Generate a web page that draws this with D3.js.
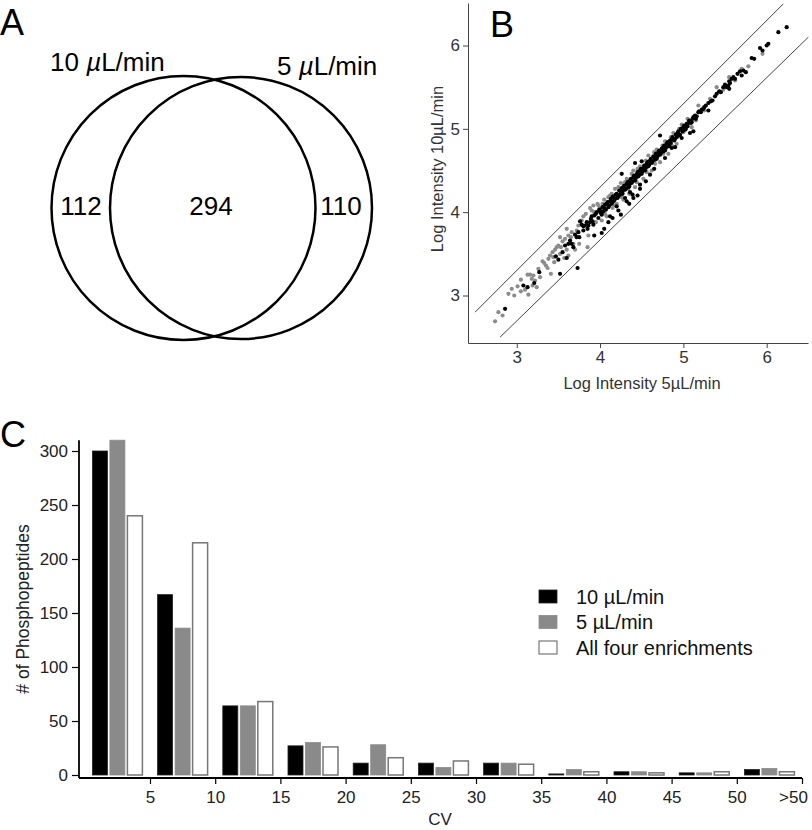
<!DOCTYPE html>
<html>
<head>
<meta charset="utf-8">
<script src="https://cdn.jsdelivr.net/npm/d3@7/dist/d3.min.js"></script>
<style>
  html, body { margin: 0; padding: 0; background: #fff; }
  svg { display: block; font-family: "Liberation Sans", Arial, Helvetica, sans-serif; }
</style>
</head>
<body>
<svg id="chart" width="812" height="830"></svg>
<script>
// ---------------- DATA ----------------
// Panel A: Venn diagram
const vennSetLabels = ["10", "5"];          // flow rates (µL/min)
const vennCounts = [112, 294, 110];         // only-10, shared, only-5

// Panel B: scatter (log intensity 5 µL/min vs 10 µL/min)
const scatterBlack = [
  [2.86,2.84],[3.08,3.12],[3.13,3.10],[3.21,3.15],[3.27,3.28],[3.52,3.26],[3.73,3.33],
  [3.47,3.47],[3.50,3.43],[3.55,3.52],[3.62,3.62],[3.68,3.58],[3.70,3.73],[3.75,3.70],
  [3.76,3.89],[3.80,3.83],[3.80,3.78],[3.78,3.85],[3.85,3.80],[3.88,3.88],[3.90,3.95],
  [3.92,3.85],[3.93,3.72],[3.95,3.98],[3.98,3.93],[4.00,4.02],[4.02,3.97],[4.02,3.75],
  [4.05,4.05],[4.08,4.10],[4.10,4.06],[4.10,3.88],[4.12,4.13],[4.12,3.95],[4.15,4.12],
  [4.15,4.18],[4.18,4.16],[4.20,4.22],[4.20,4.07],[4.22,4.19],[4.25,4.25],[4.25,3.97],
  [4.26,4.46],[4.27,4.22],[4.28,4.30],[4.30,4.27],[4.30,4.17],[4.32,4.33],[4.35,4.31],
  [4.35,4.10],[4.36,4.38],[4.36,4.24],[4.38,4.35],[4.39,4.21],[4.40,4.42],[4.40,4.17],
  [4.42,4.38],[4.42,4.59],[4.44,4.45],[4.45,4.20],[4.46,4.43],[4.48,4.50],[4.48,4.33],
  [4.50,4.46],[4.50,4.61],[4.52,4.53],[4.54,4.50],[4.55,4.37],[4.56,4.58],[4.58,4.55],
  [4.60,4.62],[4.62,4.59],[4.65,4.66],[4.68,4.64],[4.70,4.72],[4.72,4.92],[4.72,4.69],
  [4.75,4.77],[4.78,4.74],[4.80,4.82],[4.83,4.80],[4.86,4.87],[4.86,4.77],[4.90,4.88],
  [4.93,4.95],[4.96,4.93],[4.98,4.89],[5.00,5.02],[5.03,5.00],[5.06,5.07],[5.08,4.95],
  [5.10,5.08],[5.12,4.97],[5.12,5.14],[5.15,5.12],[5.18,5.20],[5.22,5.23],[5.25,5.26],
  [5.30,5.31],[5.35,5.34],[5.40,5.42],[5.45,5.44],[5.48,5.50],[5.52,5.50],[5.54,5.52],
  [5.55,5.57],[5.58,5.60],[5.65,5.66],[5.68,5.69],[5.70,5.64],[5.72,5.70],[5.82,5.85],
  [5.85,5.84],[5.92,5.97],[5.95,5.94],[6.00,6.00],[6.02,6.02],[6.14,6.16],[6.24,6.22],
  [3.96,4.00],[3.99,4.03],[4.01,3.99],[4.03,4.06],[4.04,4.01],[4.06,4.09],[4.07,4.03],
  [4.09,4.12],[4.11,4.08],[4.13,4.16],[4.14,4.10],[4.16,4.19],[4.17,4.14],[4.19,4.21],
  [4.21,4.17],[4.23,4.26],[4.24,4.21],[4.26,4.29],[4.27,4.25],[4.29,4.32],[4.31,4.28],
  [4.33,4.36],[4.34,4.30],[4.36,4.34],[4.37,4.40],[4.39,4.37],[4.41,4.44],[4.43,4.41],
  [4.45,4.48],[4.47,4.45],[4.49,4.52],[4.51,4.49],[4.53,4.56],[4.55,4.53],[4.57,4.60],
  [4.59,4.57],[4.61,4.64],[4.63,4.61],[4.64,4.67],[4.66,4.63],[4.67,4.70],[4.69,4.67],
  [4.71,4.74],[4.73,4.71],[4.74,4.76],[4.76,4.73],[4.77,4.80],[4.79,4.77],[4.81,4.84],
  [4.82,4.79],[4.84,4.86],[4.85,4.83],[4.87,4.90],[4.89,4.86],[4.91,4.93],[4.92,4.90],
  [4.94,4.97],[4.95,4.92],[4.97,5.00],[4.99,4.97],[5.01,5.04],[5.02,4.99],[5.04,5.06],
  [5.05,5.03],[5.07,5.10],[5.09,5.07],[5.11,5.12],[5.14,5.16],[5.16,5.15],[5.19,5.21],
  [5.21,5.20],[5.24,5.24],[5.27,5.28],[5.33,5.33],[5.38,5.39],[5.43,5.45],[5.50,5.53],
  [5.56,5.55],[5.60,5.62],[5.62,5.60],[3.58,3.60],[3.64,3.66],[3.66,3.62],[3.72,3.70],
  [3.74,3.76],[3.82,3.84],[3.84,3.88],[3.86,3.84],[3.89,3.92],[3.91,3.89],[3.93,3.96],
  [4.05,3.80],[4.15,3.93],[4.22,4.02],[4.32,4.13],[4.48,4.28],[4.60,4.45],[4.65,4.52],
  [4.78,4.65],[4.90,4.78],[5.30,5.22],[5.55,5.48],[5.75,5.68],[3.60,3.45]
];
const scatterGray = [
  [2.74,2.69],[2.78,2.80],[2.83,2.76],[2.90,3.02],[2.94,3.08],[3.05,3.19],[3.10,3.07],
  [3.14,3.01],[3.13,3.25],[3.16,3.25],[3.20,3.24],[3.18,3.20],[3.22,3.18],[3.19,3.12],
  [3.24,3.10],[3.31,3.41],[3.33,3.39],[3.35,3.36],[3.37,3.33],[3.41,3.26],[3.40,3.48],
  [3.43,3.52],[3.46,3.55],[3.48,3.58],[3.50,3.60],[3.52,3.50],[3.45,3.40],[3.55,3.65],
  [3.57,3.45],[3.58,3.68],[3.60,3.55],[3.62,3.72],[3.62,3.48],[3.65,3.70],[3.68,3.62],
  [3.70,3.55],[3.72,3.78],[3.75,3.62],[3.78,3.90],[3.80,3.95],[3.83,3.98],[3.85,3.58],
  [3.86,3.72],[3.88,4.05],[3.90,4.02],[3.92,4.08],[3.95,3.88],[3.97,4.10],[4.00,4.05],
  [4.02,3.90],[4.05,4.15],[4.08,3.95],[4.12,4.20],[4.15,4.05],[4.18,4.28],[4.20,4.10],
  [4.25,4.35],[4.28,4.15],[4.32,4.40],[4.35,4.22],[4.40,4.50],[4.42,4.30],[4.48,4.55],
  [4.52,4.40],[4.58,4.68],[4.62,4.50],[4.68,4.75],[4.72,4.60],[4.78,4.85],[4.82,4.70],
  [4.88,4.95],[4.92,4.82],[4.98,5.05],[5.05,5.12],[5.10,5.02],[5.18,5.28],[5.25,5.22],
  [5.40,5.50],[5.55,5.62],[5.62,5.58],[5.78,5.75],[5.95,5.90],
  [4.03,4.10],[4.10,4.18],[4.14,4.22],[4.22,4.30],[4.30,4.36],[4.38,4.46],[4.45,4.52],
  [4.55,4.62],[4.65,4.72],[4.75,4.80],[4.85,4.90],[4.95,5.00],[4.06,3.98],[4.18,4.08],
  [4.26,4.18],[4.34,4.28],[4.44,4.36],[4.56,4.48],[4.66,4.58],[4.76,4.70],[4.86,4.80],
  [5.00,4.96],[5.15,5.10],[5.32,5.36],[5.48,5.47],[5.70,5.72],[3.26,3.32],[3.28,3.22],
  [3.38,3.44],[3.44,3.46],[3.53,3.58],[3.66,3.76],[3.74,3.84],[3.93,4.00],[3.98,4.08],
  [3.05,3.05],[3.01,3.11],[2.97,3.00],[3.52,3.70],[3.60,3.80]
];
const upperBand = [[2.5,2.8],[6.2,6.5]];
const lowerBand = [[2.8,2.5],[6.5,6.1]];
const logTicks = [3,4,5,6];

// Panel C: CV histogram
const cvCategories = ["0-5","5-10","10-15","15-20","20-25","25-30","30-35","35-40","40-45","45-50",">50"];
const cvTickLabels = ["5","10","15","20","25","30","35","40","45","50",">50"];
const seriesNames = ["10 µL/min","5 µL/min","All four enrichments"];
const flow10 = [300,167,64,27,11,11,11,1,3,2,5];
const flow5  = [310,136,64,30,28,7,11,5,3,2,6];
const allFour = [240,215,68,26,16,13,10,3,2,3,3];
const countTicks = [0,50,100,150,200,250,300];

// ---------------- DRAW ----------------
const svg = d3.select("#chart");
const FONT = "'Liberation Sans', Arial, Helvetica, sans-serif";

// Panel labels
[["A",0,35],["B",490,37],["C",0,447]].forEach(([t,x,y]) => {
  svg.append("text").attr("x",x).attr("y",y).attr("font-size",36).attr("fill","#000").text(t);
});

// ---- Panel A ----
const gA = svg.append("g");
const vennCircles = [{cx:183.5, cy:208, r:132},{cx:241, cy:208, r:131}];
gA.selectAll("circle").data(vennCircles).enter().append("circle")
  .attr("cx",d=>d.cx).attr("cy",d=>d.cy).attr("r",d=>d.r)
  .attr("fill","none").attr("stroke","#000").attr("stroke-width",2.5);
const vennLabelPos = [{x:50,y:71},{x:277,y:75}];
vennSetLabels.forEach((lab,i) => {
  const t = gA.append("text").attr("x",vennLabelPos[i].x).attr("y",vennLabelPos[i].y)
    .attr("font-size",26).attr("fill","#000");
  t.append("tspan").text(lab + " ");
  t.append("tspan").attr("font-style","italic").text("µ");
  t.append("tspan").text("L/min");
});
const countPos = [81, 211, 341];
vennCounts.forEach((c,i) => {
  gA.append("text").attr("x",countPos[i]).attr("y",215).attr("text-anchor","middle")
    .attr("font-size",26).attr("fill","#000").text(c);
});

// ---- Panel B ----
const gB = svg.append("g");
const xB = d3.scaleLinear().domain([2.415, 6.496]).range([468, 808]);
const yB = d3.scaleLinear().domain([2.43, 6.51]).range([343, 3]);
const line = d3.line().x(d=>xB(d[0])).y(d=>yB(d[1]));
[upperBand, lowerBand].forEach(b => {
  gB.append("path").attr("d", line(b)).attr("fill","none").attr("stroke","#444").attr("stroke-width",1);
});
gB.selectAll("circle.g").data(scatterGray).enter().append("circle").attr("class","g")
  .attr("cx",d=>xB(d[0])).attr("cy",d=>yB(d[1])).attr("r",2.1).attr("fill","#8c8c8c");
gB.selectAll("circle.b").data(scatterBlack).enter().append("circle").attr("class","b")
  .attr("cx",d=>xB(d[0])).attr("cy",d=>yB(d[1])).attr("r",2.1).attr("fill","#000");

const axBx = gB.append("g").attr("transform","translate(0,343)")
  .call(d3.axisBottom(xB).tickValues(logTicks).tickSize(5).tickSizeOuter(0).tickFormat(d3.format("d")));
const axBy = gB.append("g").attr("transform","translate(468,0)")
  .call(d3.axisLeft(yB).tickValues(logTicks).tickSize(5).tickPadding(3).tickSizeOuter(0).tickFormat(d3.format("d")));
[axBx, axBy].forEach(a => {
  a.selectAll("path,line").attr("stroke","#444").attr("stroke-width",1);
  a.selectAll("text").attr("font-size",17).attr("fill","#333").attr("font-family",FONT);
});
axBx.selectAll("text").attr("y",20).attr("dy",0);
gB.append("text").attr("x",642).attr("y",389).attr("text-anchor","middle")
  .attr("font-size",16.5).attr("fill","#333").text("Log Intensity 5µL/min");
gB.append("text").attr("transform","translate(443,169) rotate(-90)").attr("text-anchor","middle")
  .attr("font-size",16.5).attr("fill","#333").text("Log Intensity 10µL/min");

// ---- Panel C ----
const gC = svg.append("g");
const xC = d3.scaleBand().domain(cvCategories).range([84.8, 802]).paddingInner(0).paddingOuter(0);
const xSub = d3.scaleBand().domain(seriesNames).range([0, xC.bandwidth()]).paddingInner(0.143).paddingOuter(0.434);
const yC = d3.scaleLinear().domain([0, 300]).range([775, 451]);
const fills = ["#000", "#8a8a8a", "#fff"];
const strokes = ["#222", "#8a8a8a", "#777"];
const seriesData = [flow10, flow5, allFour];

seriesData.forEach((vals, si) => {
  gC.selectAll("rect.s"+si).data(vals).enter().append("rect").attr("class","s"+si)
    .attr("x",(d,i)=>xC(cvCategories[i]) + xSub(seriesNames[si]))
    .attr("width", xSub.bandwidth())
    .attr("y", d=>yC(d))
    .attr("height", d=>yC(0)-yC(d))
    .attr("fill", fills[si]).attr("stroke", strokes[si]).attr("stroke-width", si===2 ? 1.5 : 0.8);
});

// y axis
const axCy = gC.append("g").attr("transform","translate(79,0)")
  .call(d3.axisLeft(yC).tickValues(countTicks).tickSize(7).tickPadding(4).tickSizeOuter(0));
axCy.select(".domain").remove();
gC.append("line").attr("x1",79).attr("x2",79).attr("y1",yC(310)).attr("y2",778)
  .attr("stroke","#000").attr("stroke-width",1.8);
// x axis
const xTick = d3.scalePoint().domain(cvTickLabels).range([xC.range()[0] + xC.bandwidth(), 802]);
const axCx = gC.append("g").attr("transform","translate(0,778)")
  .call(d3.axisBottom(xTick).tickSize(6).tickSizeOuter(0));
axCx.select(".domain").remove();
gC.append("line").attr("x1",79).attr("x2",802).attr("y1",778).attr("y2",778)
  .attr("stroke","#000").attr("stroke-width",1.8);
[axCx, axCy].forEach(a => {
  a.selectAll("line").attr("stroke","#000").attr("stroke-width",1.2);
  a.selectAll("text").attr("font-size",17).attr("fill","#222").attr("font-family",FONT);
});
axCx.selectAll("text").attr("y",25).attr("dy",0);
axCx.selectAll("text").filter(d => d === ">50").attr("dx",-9);
gC.append("text").attr("x",440).attr("y",825).attr("text-anchor","middle")
  .attr("font-size",17).attr("fill","#222").text("CV");
gC.append("text").attr("transform","translate(29,609) rotate(-90)").attr("text-anchor","middle")
  .attr("font-size",17.5).attr("fill","#222").text("# of Phosphopeptides");

// legend
const legend = gC.append("g").attr("transform","translate(539,590)");
seriesNames.forEach((n,i) => {
  const g = legend.append("g").attr("transform",`translate(0,${i*25.5})`);
  g.append("rect").attr("x",0).attr("y",0).attr("width",18).attr("height",13)
    .attr("fill",fills[i]).attr("stroke",strokes[i]).attr("stroke-width", i===2?1.2:0.8);
  g.append("text").attr("x",37).attr("y",13.5).attr("font-size",20).attr("fill","#111").text(n);
});
</script>
</body>
</html>
